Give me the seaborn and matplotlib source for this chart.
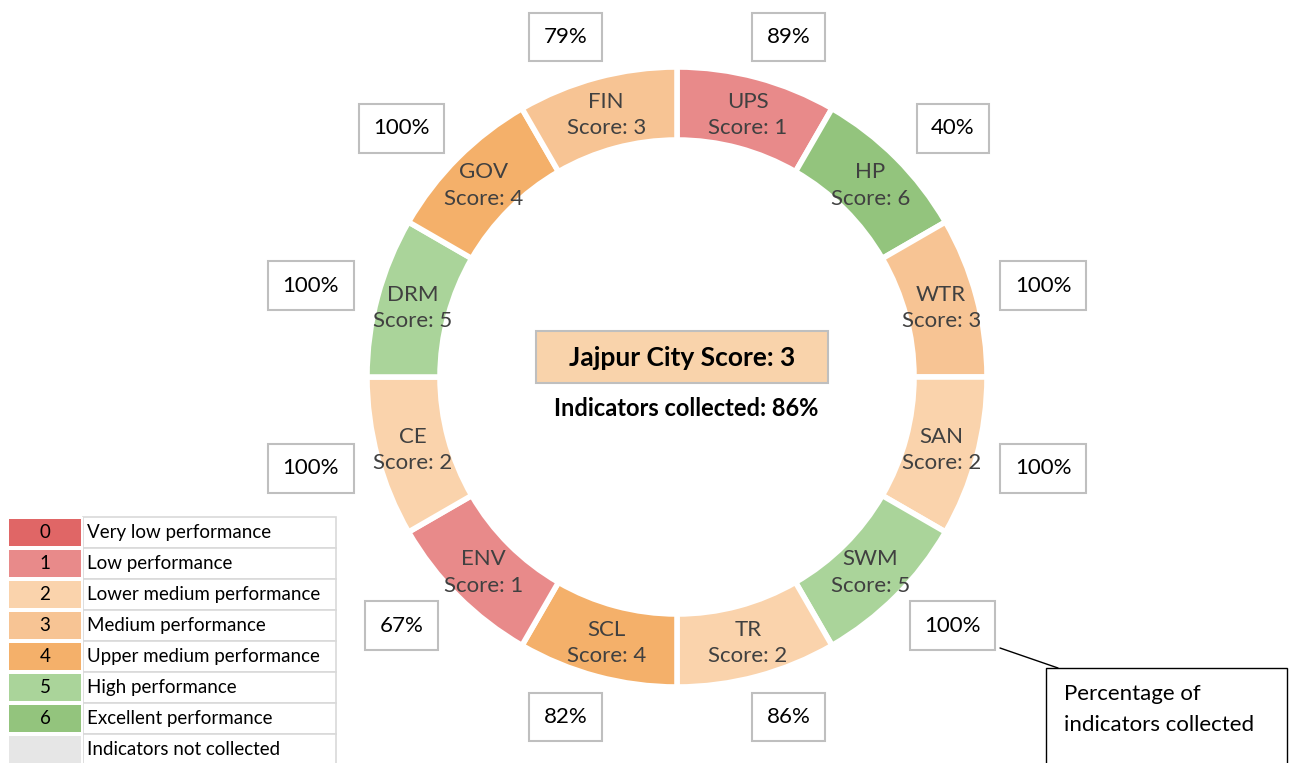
import matplotlib.pyplot as plt
import matplotlib.patches as mpatches
from matplotlib.colors import ListedColormap
import seaborn as sns
import numpy as np

# sectors, clockwise from 12 o'clock
sectors = ['UPS', 'HP', 'WTR', 'SAN', 'SWM', 'TR', 'SCL', 'ENV', 'CE', 'DRM', 'GOV', 'FIN']
scores = [1, 6, 3, 2, 5, 2, 4, 1, 2, 5, 4, 3]
collected = [89, 40, 100, 100, 100, 86, 82, 67, 100, 100, 100, 79]

city = 'Jajpur'
city_score = 3
city_collected = 86

# score legend
legend_scores = ['0', '1', '2', '3', '4', '5', '6', '']
legend_labels = ['Very low performance', 'Low performance', 'Lower medium performance',
                 'Medium performance', 'Upper medium performance', 'High performance',
                 'Excellent performance', 'Indicators not collected']
score_colors = ['#E06666', '#E88A8A', '#FAD3AC', '#F7C494', '#F4B06A', '#AAD49A', '#93C47D', '#E6E6E6']

sns.set_theme(style='white')
plt.rcParams['font.family'] = ['Lato', 'DejaVu Sans']

W, H = 1290, 763
fig = plt.figure(figsize=(12.9, 7.63), dpi=100)
ax = fig.add_axes([0, 0, 1, 1])

cx, cy = 677, H - 377
r_out, ring = 310, 73

ax.pie([1] * len(sectors), colors=[score_colors[s] for s in scores],
       startangle=90, counterclock=False, radius=r_out, center=(cx, cy),
       wedgeprops=dict(width=ring, edgecolor='white', linewidth=4))
ax.set_xlim(0, W)
ax.set_ylim(0, H)
ax.set_aspect('equal')
ax.axis('off')

n = len(sectors)
r_mid = r_out - ring / 2
for i, (name, sc, pct) in enumerate(zip(sectors, scores, collected)):
    a = np.deg2rad(90 - 360 / n * (i + 0.5))
    ax.text(cx + r_mid * np.cos(a), cy + r_mid * np.sin(a) - 2, f'{name}\nScore: {sc}',
            ha='center', va='center', fontsize=16, color='#404040', linespacing=1.4)
    # percentage boxes on a slightly flattened ring outside the donut
    bx = cx + 375 * np.cos(a) + 15 * np.sign(np.cos(a)) * abs(np.sin(a))
    by = cy + 352 * np.sin(a)
    ax.text(bx, by, f'{pct}%', ha='center', va='center', fontsize=16, color='black',
            bbox=dict(boxstyle='square,pad=0.65', fc='white', ec='#BFBFBF', lw=1.5))

# centre summary
ax.add_patch(mpatches.Rectangle((536, H - 383), 292, 52, fc='#F9D3AB', ec='#BFBFBF', lw=1.5))
ax.text(682, H - 358, f'{city} City Score: {city_score}', ha='center', va='center',
        fontsize=19, fontweight='bold', color='black')
ax.text(686, H - 408, f'Indicators collected: {city_collected}%', ha='center', va='center',
        fontsize=17, fontweight='bold', color='black')

# callout
ax.plot([1000, 1058], [H - 648, H - 668], color='black', lw=1)
ax.add_patch(mpatches.Rectangle((1046, H - 775), 241, 107, fc='white', ec='black', lw=1))
ax.text(1064, H - 694, 'Percentage of', ha='left', va='center', fontsize=16, color='black')
ax.text(1064, H - 725, 'indicators collected', ha='left', va='center', fontsize=16, color='black')

# legend: colour column as a seaborn heatmap
row_h = 31
top = 517
lax = fig.add_axes([7 / W, (H - top - row_h * len(legend_scores)) / H,
                    76 / W, row_h * len(legend_scores) / H])
sns.heatmap(np.arange(len(legend_scores)).reshape(-1, 1), ax=lax, cbar=False,
            cmap=ListedColormap(score_colors), annot=np.array(legend_scores).reshape(-1, 1),
            fmt='', annot_kws=dict(fontsize=13.5, color='black'),
            linewidths=1.5, linecolor='white', xticklabels=False, yticklabels=False)
for j, lab in enumerate(legend_labels):
    y0 = H - top - row_h * (j + 1)
    ax.add_patch(mpatches.Rectangle((83, y0), 253, row_h, fc='white', ec='#D9D9D9', lw=1.2))
    ax.text(87, y0 + row_h / 2, lab, ha='left', va='center', fontsize=13.5, color='black')

fig.savefig('out.png', dpi=100)
